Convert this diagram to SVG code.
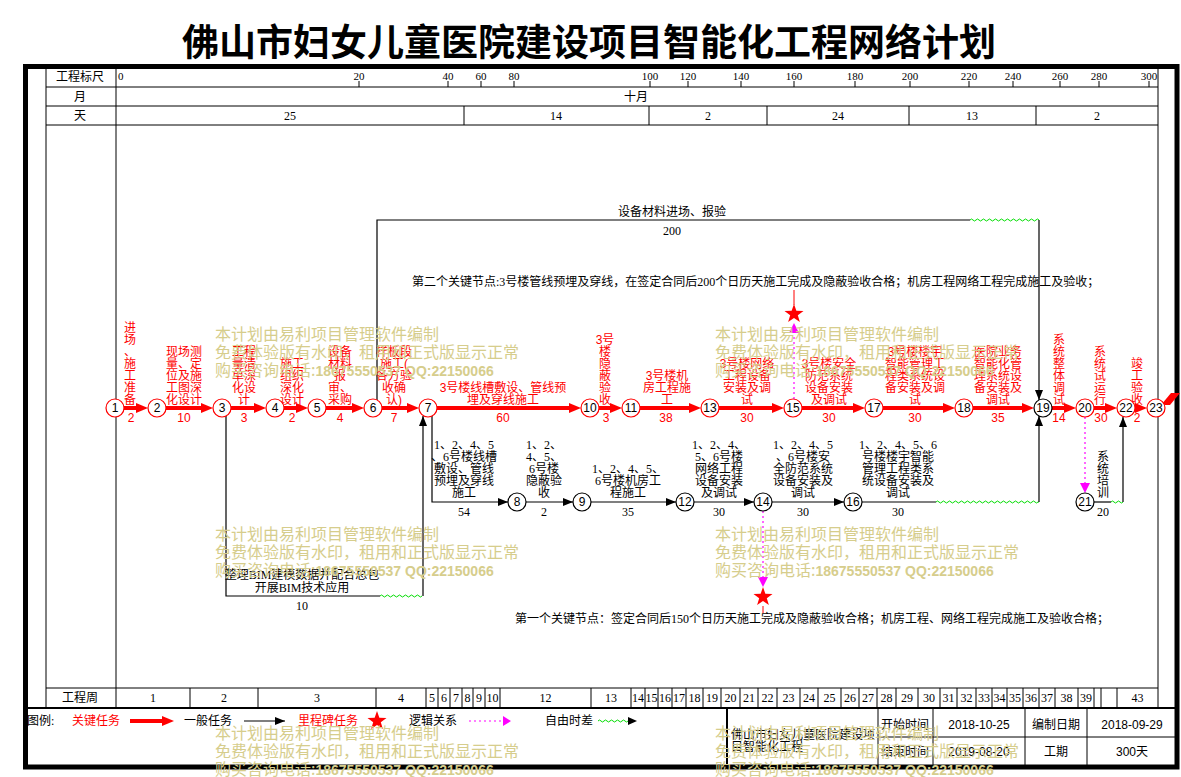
<svg xmlns="http://www.w3.org/2000/svg" width="1181" height="777" viewBox="0 0 1181 777">
<style>
.ser{font-family:"Liberation Serif","Noto Sans CJK SC",serif;font-size:12px;fill:#000}
.redt{fill:#f00}
.c{text-anchor:middle}
.rl{font-family:"Liberation Sans","Noto Sans CJK SC",sans-serif;font-size:12px;fill:#f00;text-anchor:middle}
.bl{font-family:"Liberation Serif","Noto Sans CJK SC",serif;font-size:12px;fill:#000;text-anchor:middle}
.nt{font-family:"Liberation Sans","Noto Sans CJK SC",sans-serif;font-size:12px;fill:#000;text-anchor:middle}
.sans{font-family:"Liberation Sans","Noto Sans CJK SC",sans-serif;font-size:12px;fill:#000}
.nc{fill:#fff;stroke:#f00;stroke-width:1.2}
.nb{fill:#fff;stroke:#000;stroke-width:1.2}
.crit{stroke:#f00;stroke-width:4;fill:none;marker-end:url(#ar)}
.norm{stroke:#000;stroke-width:1.2;fill:none}
.na{stroke:#000;stroke-width:1.2;fill:none;marker-end:url(#ab)}
.wave{stroke:#00dd00;stroke-width:1;fill:none}
.logic{stroke:#f0f;stroke-width:1.2;stroke-dasharray:2,3;fill:none}
.grid{stroke:#000;stroke-width:1;fill:none}
.wm{font-family:"Noto Sans CJK SC",sans-serif;font-size:16px;fill:#d6cd8c}
.wmb{font-family:"Liberation Sans",sans-serif;font-size:14px;font-weight:bold}
</style>
<defs>
<marker id="ar" markerWidth="12" markerHeight="10" refX="2" refY="5" orient="auto" markerUnits="userSpaceOnUse"><path d="M0,0 L12,5 L0,10 z" fill="#f00"/></marker>
<marker id="ab" markerWidth="10" markerHeight="8" refX="10" refY="4" orient="auto" markerUnits="userSpaceOnUse"><path d="M0,0 L10,4 L0,8 z" fill="#000"/></marker>
<polygon id="star" points="0,-10 2.35,-3.24 9.51,-3.09 3.8,1.24 5.88,8.09 0,4 -5.88,8.09 -3.8,1.24 -9.51,-3.09 -2.35,-3.24" fill="#f00"/>
</defs>
<rect width="1181" height="777" fill="#fff"/>
<text x="589" y="56" font-family="Noto Sans CJK SC,sans-serif" font-size="37" font-weight="bold" text-anchor="middle">佛山市妇女儿童医院建设项目智能化工程网络计划</text>

<g id="frame">
<rect x="25.5" y="66.5" width="1151.5" height="700.5" fill="none" stroke="#000" stroke-width="5"/>
<path class="grid" d="M46,68V708 M116,68V708 M1158,68V708 M46,87H1158 M46,106H1158 M46,125H1158 M46,688H1158"/>
<path d="M25,708H1177" stroke="#000" stroke-width="2"/>
<path class="grid" d="M464,106V125 M649,106V125 M767,106V125 M909,106V125 M1036,106V125"/>
<path class="grid" d="M359,81V87 M448,81V87 M481,81V87 M514,81V87 M650,81V87 M688,81V87 M741,81V87 M794,81V87 M855,81V87 M910,81V87 M969,81V87 M1013,81V87 M1060,81V87 M1099,81V87 M1149,81V87"/>
<path class="grid" d="M190,688V708 M258,688V708 M376,688V708 M426,688V708 M438,688V708 M450,688V708 M462,688V708 M473,688V708 M485,688V708 M500,688V708 M591,688V708 M631,688V708 M645,688V708 M658,688V708 M672,688V708 M686,688V708 M703,688V708 M721,688V708 M740,688V708 M758,688V708 M777,688V708 M800,688V708 M818,688V708 M841,688V708 M859,688V708 M877,688V708 M896,688V708 M918,688V708 M940,688V708 M957,688V708 M976,688V708 M992,688V708 M1007,688V708 M1023,688V708 M1039,688V708 M1055,688V708 M1078,688V708 M1094,688V708 M1101,688V708 M1117,688V708"/>
<path d="M727,708V767" stroke="#000" stroke-width="2"/>
<path class="grid" d="M878,708V767 M933,708V767 M1025,708V767 M1087,708V767 M878,737H1177"/>
</g>

<g id="header" class="ser">
<text x="80" y="81" class="c">工程标尺</text>
<text x="80" y="101" class="c">月</text>
<text x="80" y="120" class="c">天</text>
<g font-size="11">
<text x="118" y="80">0</text>
<text x="359" y="80" class="c">20</text>
<text x="448" y="80" class="c">40</text>
<text x="481" y="80" class="c">60</text>
<text x="514" y="80" class="c">80</text>
<text x="650" y="80" class="c">100</text>
<text x="688" y="80" class="c">120</text>
<text x="741" y="80" class="c">140</text>
<text x="794" y="80" class="c">160</text>
<text x="855" y="80" class="c">180</text>
<text x="910" y="80" class="c">200</text>
<text x="969" y="80" class="c">220</text>
<text x="1013" y="80" class="c">240</text>
<text x="1060" y="80" class="c">260</text>
<text x="1099" y="80" class="c">280</text>
<text x="1149" y="80" class="c">300</text>
</g>
<text x="636" y="101" class="c">十月</text>
<text x="290" y="120" class="c">25</text>
<text x="556" y="120" class="c">14</text>
<text x="708" y="120" class="c">2</text>
<text x="838" y="120" class="c">24</text>
<text x="972" y="120" class="c">13</text>
<text x="1097" y="120" class="c">2</text>
</g>

<g id="weeks" class="ser" font-size="11" text-anchor="middle">
<text x="80" y="702" font-size="12">工程周</text>
<text x="153" y="702">1</text><text x="224" y="702">2</text><text x="317" y="702">3</text><text x="401" y="702">4</text>
<text x="432" y="702">5</text><text x="444" y="702">6</text><text x="456" y="702">7</text><text x="467.5" y="702">8</text><text x="479" y="702">9</text><text x="492.5" y="702">10</text>
<text x="545.5" y="702">12</text><text x="611" y="702">13</text>
<text x="638" y="702">14</text><text x="651.5" y="702">15</text><text x="665" y="702">16</text><text x="679" y="702">17</text><text x="694.5" y="702">18</text><text x="712" y="702">19</text><text x="730.5" y="702">20</text><text x="749" y="702">21</text><text x="767.5" y="702">22</text><text x="788.5" y="702">23</text><text x="809" y="702">24</text><text x="829.5" y="702">25</text><text x="850" y="702">26</text><text x="868" y="702">27</text><text x="886.5" y="702">28</text><text x="907" y="702">29</text><text x="929" y="702">30</text><text x="948.5" y="702">31</text><text x="966.5" y="702">32</text><text x="984" y="702">33</text><text x="999.5" y="702">34</text><text x="1015" y="702">35</text><text x="1031" y="702">36</text><text x="1047" y="702">37</text><text x="1066.5" y="702">38</text><text x="1086" y="702">39</text><text x="1137.5" y="702">43</text>
</g>

<g id="connectors">
<path class="crit" d="M124,408H138"/>
<path class="crit" d="M166,408H203"/>
<path class="crit" d="M231,408H256"/>
<path class="crit" d="M284,408H298"/>
<path class="crit" d="M326,408H354"/>
<path class="crit" d="M382,408H409"/>
<path class="crit" d="M437,408H571"/>
<path class="crit" d="M599,408H612"/>
<path class="crit" d="M640,408H691"/>
<path class="crit" d="M719,408H774"/>
<path class="crit" d="M802,408H855"/>
<path class="crit" d="M883,408H945"/>
<path class="crit" d="M973,408H1024"/>
<path class="crit" d="M1052,408H1066"/>
<path class="crit" d="M1094,408H1107"/>
<path class="crit" d="M1135,408H1137"/>
<polygon points="1161,405 1171,393 1180,393 1170,405" fill="#f00"/>

<path class="norm" d="M377,400V220H970"/>
<path class="wave" d="M970,220 q1.5,-2 3,0 t3,0 t3,0 t3,0 t3,0 t3,0 t3,0 t3,0 t3,0 t3,0 t3,0 t3,0 t3,0 t3,0 t3,0 t3,0 t3,0 t3,0 t3,0 t3,0 t3,0 t3,0 t3,0"/>
<path class="na" d="M1039,220V400"/>

<path class="norm" d="M226,416V596H380"/>
<path class="wave" d="M380,596 q1.5,-2 3,0 t3,0 t3,0 t3,0 t3,0 t3,0 t3,0 t3,0 t3,0 t3,0 t3,0 t3,0 t3,0 t3,0"/>
<path class="na" d="M423,596V416"/>

<path class="na" d="M432,416V502H508"/>
<path class="na" d="M526,502H573"/>
<path class="na" d="M591,502H676"/>
<path class="na" d="M694,502H754"/>
<path class="na" d="M772,502H844"/>
<path class="norm" d="M862,502H936"/>
<path class="wave" d="M936,502 q1.5,-2 3,0 t3,0 t3,0 t3,0 t3,0 t3,0 t3,0 t3,0 t3,0 t3,0 t3,0 t3,0 t3,0 t3,0 t3,0 t3,0 t3,0 t3,0 t3,0 t3,0 t3,0 t3,0 t3,0 t3,0 t3,0 t3,0 t3,0 t3,0 t3,0 t3,0 t3,0 t3,0 t3,0 t3,0 H1039"/>
<path class="na" d="M1039,502V416"/>

<path class="norm" d="M1094,502H1111"/>
<path class="wave" d="M1111,502 q1.5,-2 3,0 t3,0 t3,0 t3,0"/>
<path class="na" d="M1123,502V417"/>

<path class="logic" d="M1085,417V483"/>
<polygon points="1080,483 1090,483 1085,493" fill="#f0f"/>

<path class="logic" d="M794,399V334"/>
<polygon points="789,333 799,333 794,323" fill="#f0f"/>
<use href="#star" x="794" y="314"/>
<path d="M794,290V305" stroke="#f00" stroke-width="1"/>

<path class="logic" d="M763,511V577"/>
<polygon points="758,577 768,577 763,587" fill="#f0f"/>
<use href="#star" x="763" y="597"/>
<path d="M763,606V613" stroke="#f00" stroke-width="1"/>
</g>

<g id="labels-critical" class="rl">
<text y="332"><tspan x="130">进</tspan><tspan x="130" dy="12">场</tspan><tspan x="130" dy="12">、</tspan><tspan x="130" dy="12">施</tspan><tspan x="130" dy="12">工</tspan><tspan x="130" dy="12">准</tspan><tspan x="130" dy="12">备</tspan></text>
<text y="356"><tspan x="184">现场测</tspan><tspan x="184" dy="12">量、定</tspan><tspan x="184" dy="12">位及施</tspan><tspan x="184" dy="12">工图深</tspan><tspan x="184" dy="12">化设计</tspan></text>
<text y="356"><tspan x="244">工程</tspan><tspan x="244" dy="12">量清</tspan><tspan x="244" dy="12">单深</tspan><tspan x="244" dy="12">化设</tspan><tspan x="244" dy="12">计</tspan></text>
<text y="368"><tspan x="292">施工</tspan><tspan x="292" dy="12">组织</tspan><tspan x="292" dy="12">深化</tspan><tspan x="292" dy="12">设计</tspan></text>
<text y="356"><tspan x="340">设备</tspan><tspan x="340" dy="12">材料</tspan><tspan x="340" dy="12">报</tspan><tspan x="340" dy="12">审、</tspan><tspan x="340" dy="12">采购</tspan></text>
<text y="356"><tspan x="394">样板段</tspan><tspan x="394" dy="12">施工(</tspan><tspan x="394" dy="12">各方验</tspan><tspan x="394" dy="12">收确</tspan><tspan x="394" dy="12">认)</tspan></text>
<text y="392"><tspan x="503">3号楼线槽敷设、管线预</tspan><tspan x="503" dy="12">埋及穿线施工</tspan></text>
<text y="344"><tspan x="605">3号</tspan><tspan x="605" dy="12">楼</tspan><tspan x="605" dy="12">隐</tspan><tspan x="605" dy="12">蔽</tspan><tspan x="605" dy="12">验</tspan><tspan x="605" dy="12">收</tspan></text>
<text y="380"><tspan x="667">3号楼机</tspan><tspan x="667" dy="12">房工程施</tspan><tspan x="667" dy="12">工</tspan></text>
<text y="368"><tspan x="747">3号楼网络</tspan><tspan x="747" dy="12">工程设备</tspan><tspan x="747" dy="12">安装及调</tspan><tspan x="747" dy="12">试</tspan></text>
<text y="368"><tspan x="829">3号楼安全</tspan><tspan x="829" dy="12">防范系统</tspan><tspan x="829" dy="12">设备安装</tspan><tspan x="829" dy="12">及调试</tspan></text>
<text y="356"><tspan x="915">3号楼楼宇</tspan><tspan x="915" dy="12">智能管理工</tspan><tspan x="915" dy="12">程类系统设</tspan><tspan x="915" dy="12">备安装及调</tspan><tspan x="915" dy="12">试</tspan></text>
<text y="356"><tspan x="998">医院业务</tspan><tspan x="998" dy="12">智能化管</tspan><tspan x="998" dy="12">理系统设</tspan><tspan x="998" dy="12">备安装及</tspan><tspan x="998" dy="12">调试</tspan></text>
<text y="344"><tspan x="1059">系</tspan><tspan x="1059" dy="12">统</tspan><tspan x="1059" dy="12">整</tspan><tspan x="1059" dy="12">体</tspan><tspan x="1059" dy="12">调</tspan><tspan x="1059" dy="12">试</tspan></text>
<text y="356"><tspan x="1100">系</tspan><tspan x="1100" dy="12">统</tspan><tspan x="1100" dy="12">试</tspan><tspan x="1100" dy="12">运</tspan><tspan x="1100" dy="12">行</tspan></text>
<text y="368"><tspan x="1137">竣</tspan><tspan x="1137" dy="12">工</tspan><tspan x="1137" dy="12">验</tspan><tspan x="1137" dy="12">收</tspan></text>
<text x="131" y="422">2</text><text x="184" y="422">10</text><text x="244" y="422">3</text><text x="292" y="422">2</text><text x="340" y="422">4</text><text x="394" y="422">7</text><text x="503" y="422">60</text><text x="606" y="422">3</text><text x="666" y="422">38</text><text x="747" y="422">30</text><text x="829" y="422">30</text><text x="915" y="422">30</text><text x="998" y="422">35</text><text x="1059" y="422">14</text><text x="1101" y="422">30</text><text x="1137" y="422">2</text>
</g>

<g id="labels-normal" class="bl">
<text x="672" y="216">设备材料进场、报验</text>
<text x="672" y="235">200</text>
<text y="579"><tspan x="302">整理BIM建模数据并配合总包</tspan><tspan x="302" dy="13">开展BIM技术应用</tspan></text>
<text x="302" y="610">10</text>
<text y="449"><tspan x="464">1、2、4、5</tspan><tspan x="464" dy="12">、6号楼线槽</tspan><tspan x="464" dy="12">敷设、管线</tspan><tspan x="464" dy="12">预埋及穿线</tspan><tspan x="464" dy="12">施工</tspan></text>
<text y="449"><tspan x="544">1、2、</tspan><tspan x="544" dy="12">4、5、</tspan><tspan x="544" dy="12">6号楼</tspan><tspan x="544" dy="12">隐蔽验</tspan><tspan x="544" dy="12">收</tspan></text>
<text y="473"><tspan x="628">1、2、4、5、</tspan><tspan x="628" dy="12">6号楼机房工</tspan><tspan x="628" dy="12">程施工</tspan></text>
<text y="449"><tspan x="719">1、2、4、</tspan><tspan x="719" dy="12">5、6号楼</tspan><tspan x="719" dy="12">网络工程</tspan><tspan x="719" dy="12">设备安装</tspan><tspan x="719" dy="12">及调试</tspan></text>
<text y="449"><tspan x="803">1、2、4、5</tspan><tspan x="803" dy="12">、6号楼安</tspan><tspan x="803" dy="12">全防范系统</tspan><tspan x="803" dy="12">设备安装及</tspan><tspan x="803" dy="12">调试</tspan></text>
<text y="449"><tspan x="898">1、2、4、5、6</tspan><tspan x="898" dy="12">号楼楼宇智能</tspan><tspan x="898" dy="12">管理工程类系</tspan><tspan x="898" dy="12">统设备安装及</tspan><tspan x="898" dy="12">调试</tspan></text>
<text y="461"><tspan x="1103">系</tspan><tspan x="1103" dy="12">统</tspan><tspan x="1103" dy="12">培</tspan><tspan x="1103" dy="12">训</tspan></text>
<text x="464" y="516">54</text><text x="544" y="516">2</text><text x="628" y="516">35</text><text x="719" y="516">30</text><text x="803" y="516">30</text><text x="898" y="516">30</text><text x="1103" y="516">20</text>
</g>
<text class="ser" x="412" y="286">第二个关键节点:3号楼管线预埋及穿线，在签定合同后200个日历天施工完成及隐蔽验收合格；机房工程网络工程完成施工及验收；</text>
<text class="ser" x="515" y="623">第一个关键节点：签定合同后150个日历天施工完成及隐蔽验收合格；机房工程、网络工程完成施工及验收合格；</text>

<g id="nodes">
<g id="n1"><circle cx="115" cy="408" r="9" class="nc"/><text x="115" y="412" class="nt">1</text></g>
<g id="n2"><circle cx="157" cy="408" r="9" class="nc"/><text x="157" y="412" class="nt">2</text></g>
<g id="n3"><circle cx="222" cy="408" r="9" class="nc"/><text x="222" y="412" class="nt">3</text></g>
<g id="n4"><circle cx="275" cy="408" r="9" class="nc"/><text x="275" y="412" class="nt">4</text></g>
<g id="n5"><circle cx="317" cy="408" r="9" class="nc"/><text x="317" y="412" class="nt">5</text></g>
<g id="n6"><circle cx="373" cy="408" r="9" class="nc"/><text x="373" y="412" class="nt">6</text></g>
<g id="n7"><circle cx="428" cy="408" r="9" class="nc"/><text x="428" y="412" class="nt">7</text></g>
<g id="n10"><circle cx="590" cy="408" r="9" class="nc"/><text x="590" y="412" class="nt">10</text></g>
<g id="n11"><circle cx="631" cy="408" r="9" class="nc"/><text x="631" y="412" class="nt">11</text></g>
<g id="n13"><circle cx="710" cy="408" r="9" class="nc"/><text x="710" y="412" class="nt">13</text></g>
<g id="n15"><circle cx="793" cy="408" r="9" class="nc"/><text x="793" y="412" class="nt">15</text></g>
<g id="n17"><circle cx="874" cy="408" r="9" class="nc"/><text x="874" y="412" class="nt">17</text></g>
<g id="n18"><circle cx="964" cy="408" r="9" class="nc"/><text x="964" y="412" class="nt">18</text></g>
<g id="n19"><circle cx="1043" cy="408" r="9" class="nb"/><text x="1043" y="412" class="nt">19</text></g>
<g id="n20"><circle cx="1085" cy="408" r="9" class="nc"/><text x="1085" y="412" class="nt">20</text></g>
<g id="n22"><circle cx="1126" cy="408" r="9" class="nc"/><text x="1126" y="412" class="nt">22</text></g>
<g id="n23"><circle cx="1156" cy="408" r="9" class="nc"/><text x="1156" y="412" class="nt">23</text></g>
<g id="n8"><circle cx="517" cy="502" r="9" class="nb"/><text x="517" y="506" class="nt">8</text></g>
<g id="n9"><circle cx="582" cy="502" r="9" class="nb"/><text x="582" y="506" class="nt">9</text></g>
<g id="n12"><circle cx="685" cy="502" r="9" class="nb"/><text x="685" y="506" class="nt">12</text></g>
<g id="n14"><circle cx="763" cy="502" r="9" class="nb"/><text x="763" y="506" class="nt">14</text></g>
<g id="n16"><circle cx="853" cy="502" r="9" class="nb"/><text x="853" y="506" class="nt">16</text></g>
<g id="n21"><circle cx="1085" cy="502" r="9" class="nb"/><text x="1085" y="506" class="nt">21</text></g>
</g>

<g id="legend">
<text class="ser" x="27" y="725">图例:</text>
<text class="ser redt" x="72" y="725">关键任务</text>
<path class="crit" d="M130,721H164"/>
<text class="ser" x="184" y="725">一般任务</text>
<path class="na" d="M244,721H285"/>
<text class="ser redt" x="298" y="725">里程碑任务</text>
<use href="#star" x="377" y="721"/>
<text class="ser" x="409" y="725">逻辑关系</text>
<path class="logic" d="M469,721H503"/>
<polygon points="503,716 511,721 503,726" fill="#f0f"/>
<text class="ser" x="545" y="725">自由时差</text>
<path class="wave" d="M598,721 q1.5,-2 3,0 t3,0 t3,0 t3,0 t3,0 t3,0 t3,0 t3,0 t3,0 t3,0"/>
<polygon points="628,717 637,721 628,725" fill="#000"/>
</g>

<g id="info" class="sans">
<text x="731" y="739">佛山市妇女儿童医院建设项</text>
<text x="731" y="751">目智能化工程</text>
<text x="905" y="729" class="c">开始时间</text>
<text x="979" y="729" class="c">2018-10-25</text>
<text x="1056" y="729" class="c">编制日期</text>
<text x="1132" y="729" class="c">2018-09-29</text>
<text x="905" y="756" class="c">结束时间</text>
<text x="979" y="756" class="c">2019-08-20</text>
<text x="1056" y="756" class="c">工期</text>
<text x="1132" y="756" class="c">300天</text>
</g>

<g id="watermarks" class="wm">
<text x="215" y="340">本计划由易利项目管理软件编制</text>
<text x="215" y="358">免费体验版有水印，租用和正式版显示正常</text>
<text x="215" y="376">购买咨询电话:<tspan class="wmb">18675550537 QQ:22150066</tspan></text>
<text x="715" y="340">本计划由易利项目管理软件编制</text>
<text x="715" y="358">免费体验版有水印，租用和正式版显示正常</text>
<text x="715" y="376">购买咨询电话:<tspan class="wmb">18675550537 QQ:22150066</tspan></text>
<text x="215" y="540">本计划由易利项目管理软件编制</text>
<text x="215" y="558">免费体验版有水印，租用和正式版显示正常</text>
<text x="215" y="576">购买咨询电话:<tspan class="wmb">18675550537 QQ:22150066</tspan></text>
<text x="715" y="540">本计划由易利项目管理软件编制</text>
<text x="715" y="558">免费体验版有水印，租用和正式版显示正常</text>
<text x="715" y="576">购买咨询电话:<tspan class="wmb">18675550537 QQ:22150066</tspan></text>
<text x="215" y="739">本计划由易利项目管理软件编制</text>
<text x="215" y="757">免费体验版有水印，租用和正式版显示正常</text>
<text x="215" y="775">购买咨询电话:<tspan class="wmb">18675550537 QQ:22150066</tspan></text>
<text x="715" y="739">本计划由易利项目管理软件编制</text>
<text x="715" y="757">免费体验版有水印，租用和正式版显示正常</text>
<text x="715" y="775">购买咨询电话:<tspan class="wmb">18675550537 QQ:22150066</tspan></text>
</g>
</svg>
